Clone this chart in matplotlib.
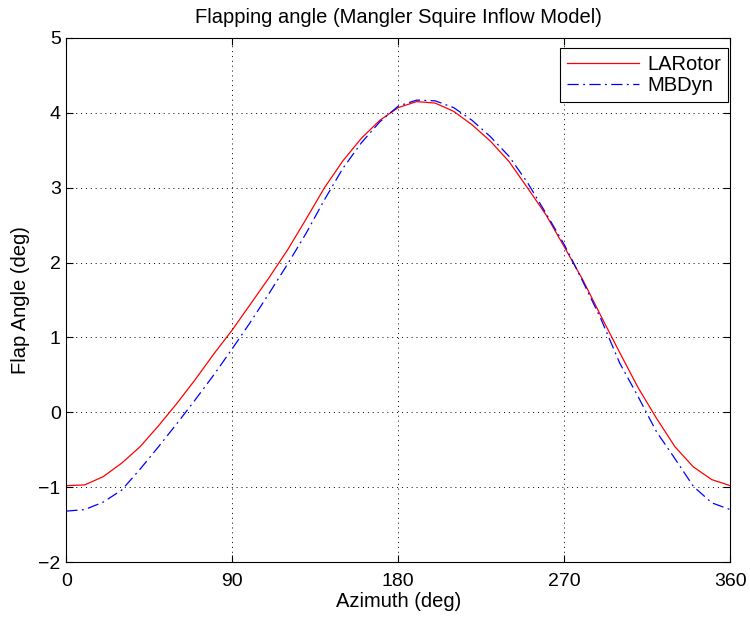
import matplotlib
matplotlib.use("Agg")
import matplotlib.pyplot as plt
import numpy as np

azimuth = list(range(0, 361, 10))
larotor = [-0.98, -0.97, -0.86, -0.68, -0.46, -0.18, 0.12, 0.44, 0.78, 1.10,
           1.45, 1.80, 2.17, 2.58, 3.00, 3.36, 3.66, 3.90, 4.07, 4.15,
           4.13, 4.02, 3.84, 3.62, 3.35, 3.00, 2.64, 2.21, 1.77, 1.28,
           0.80, 0.33, -0.08, -0.46, -0.73, -0.90, -0.98]
mbdyn = [-1.32, -1.30, -1.20, -1.04, -0.76, -0.46, -0.15, 0.17, 0.50, 0.85,
         1.21, 1.59, 1.98, 2.39, 2.84, 3.26, 3.60, 3.88, 4.09, 4.17,
         4.16, 4.07, 3.90, 3.68, 3.42, 3.07, 2.66, 2.24, 1.75, 1.24,
         0.66, 0.21, -0.26, -0.62, -0.99, -1.21, -1.30]
xticks = [0, 90, 180, 270, 360]
yticks = [-2, -1, 0, 1, 2, 3, 4, 5]

plt.rcParams['font.family'] = ['Liberation Sans', 'DejaVu Sans']
plt.rcParams['axes.unicode_minus'] = True

fig = plt.figure(figsize=(7.5, 6.18), dpi=100)
ax = fig.add_axes([0.0884, 0.0906, 0.8853, 0.848])

ax.plot(azimuth, larotor, color='#ff0000', lw=0.9, label='LARotor')
ax.plot(azimuth, mbdyn, color='#0000ff', lw=0.9, linestyle=(0, (9, 3.5, 1.5, 3.5)), label='MBDyn')

ax.set_xlim(0, 360)
ax.set_ylim(-2, 5)
ax.set_xticks(xticks)
ax.set_yticks(yticks)
ax.grid(True, linestyle=(0, (1, 4)), color='black', linewidth=0.7)
ax.tick_params(direction='in', top=True, right=True, length=5, width=0.8, labelsize=14)
ax.tick_params(axis='x', pad=8)
ax.tick_params(axis='y', pad=4)
for s in ax.spines.values():
    s.set_linewidth(0.8)

ax.set_xlabel('Azimuth (deg)', fontsize=14.5, labelpad=1)
ax.set_ylabel('Flap Angle (deg)', fontsize=14.5, labelpad=6)
ax.set_title('Flapping angle (Mangler Squire Inflow Model)', fontsize=14.5, pad=11)

leg = ax.legend(loc='upper right', bbox_to_anchor=(0.997, 0.981), borderaxespad=0,
                fancybox=False, framealpha=1, edgecolor='black',
                handlelength=3.6, fontsize=14.5, borderpad=0.35, labelspacing=0.1,
                handletextpad=0.4)
leg.get_frame().set_linewidth(0.8)

fig.savefig('out.png', dpi=100)
